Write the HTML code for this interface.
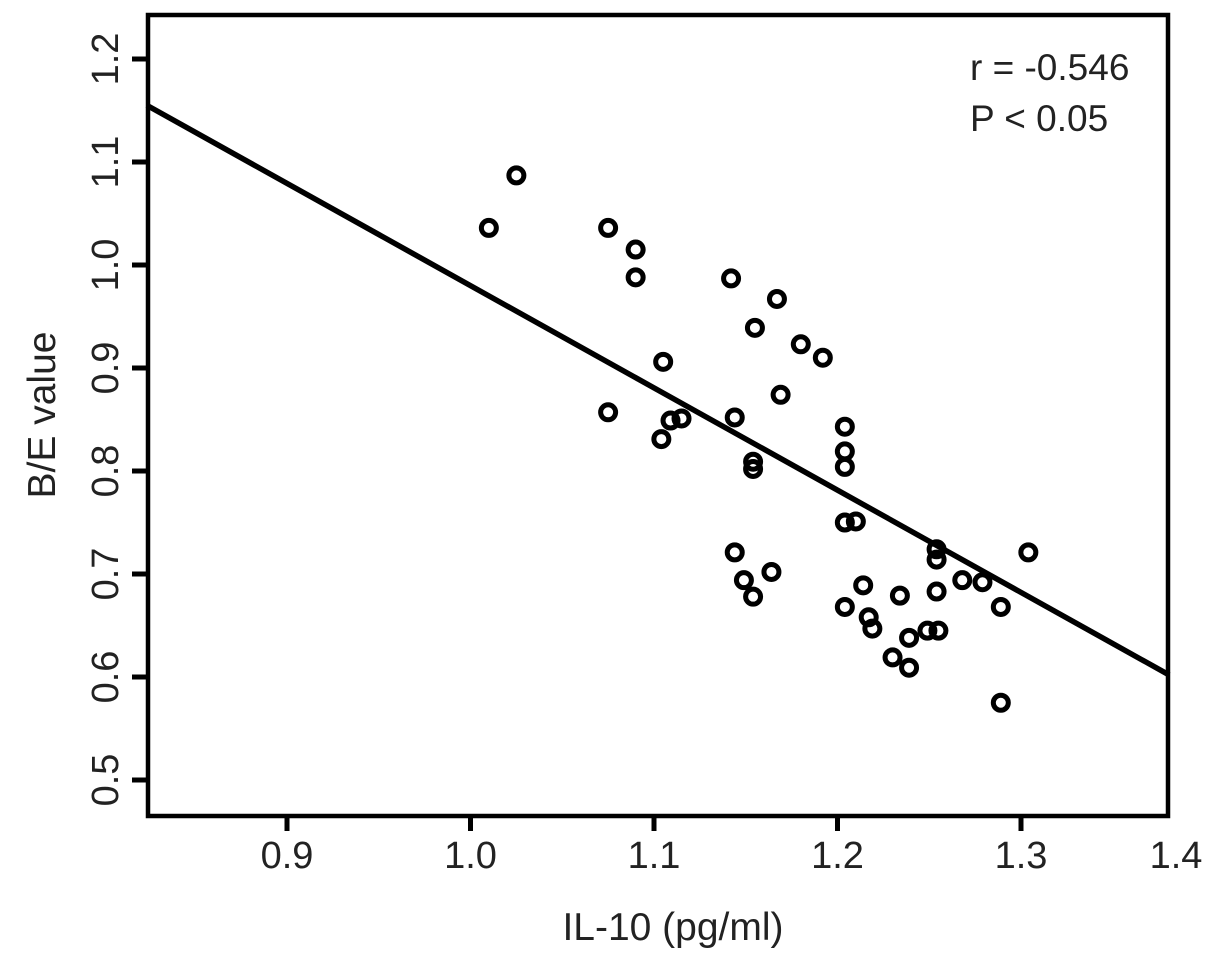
<!DOCTYPE html>
<html><head><meta charset="utf-8"><style>
html,body{margin:0;padding:0;background:#fff;}
svg{display:block;font-family:"Liberation Sans",Arial,sans-serif;}
</style></head><body>
<svg id="chart" width="1205" height="957" viewBox="0 0 1205 957" xmlns="http://www.w3.org/2000/svg">
<g id="marks"></g>
<rect x="148" y="15" width="1020" height="801" fill="none" stroke="#000" stroke-width="4.5"/>
<g id="xaxis"></g>
<g id="yaxis"></g>
<text x="673" y="940" font-size="39" text-anchor="middle" fill="#222">IL-10 (pg/ml)</text>
<text x="0" y="0" font-size="39" text-anchor="middle" fill="#222" transform="translate(55,415) rotate(-90)">B/E value</text>
<text x="970" y="80" font-size="37" fill="#222">r = -0.546</text>
<text x="970" y="131" font-size="37" fill="#222">P &lt; 0.05</text>
</svg>
<script>
const xTicks = [0.9, 1.0, 1.1, 1.2, 1.3];
const xTickLabels = ["0.9", "1.0", "1.1", "1.2", "1.3"];
const yTicks = [0.5, 0.6, 0.7, 0.8, 0.9, 1.0, 1.1, 1.2];
const yTickLabels = ["0.5", "0.6", "0.7", "0.8", "0.9", "1.0", "1.1", "1.2"];
const il10 = [1.025,1.010,1.075,1.090,1.090,1.142,1.167,1.155,1.180,1.192,1.105,1.169,1.075,1.109,1.115,1.104,1.144,1.204,1.204,1.204,1.154,1.154,1.204,1.210,1.144,1.164,1.149,1.154,1.204,1.254,1.254,1.304,1.268,1.279,1.214,1.234,1.254,1.217,1.219,1.289,1.239,1.249,1.255,1.230,1.239,1.289];
const beValue = [1.087,1.036,1.036,1.015,0.988,0.987,0.967,0.939,0.923,0.910,0.906,0.874,0.857,0.849,0.851,0.831,0.852,0.843,0.819,0.804,0.809,0.802,0.750,0.751,0.721,0.702,0.694,0.678,0.668,0.724,0.714,0.721,0.694,0.692,0.689,0.679,0.683,0.658,0.647,0.668,0.638,0.645,0.645,0.619,0.609,0.575];
const fitX = [0.8237, 1.3807];
const fitY = [1.155, 0.602];

const NS = "http://www.w3.org/2000/svg";
const X0 = 287, XS = 1835, Y0 = 780, YS = 1030;
function sx(v){ return X0 + (v - 0.9) * XS; }
function sy(v){ return Y0 - (v - 0.5) * YS; }
function mk(tag, attrs, parent){ const e = document.createElementNS(NS, tag); for (const k in attrs) e.setAttribute(k, attrs[k]); parent.appendChild(e); return e; }

const xa = document.getElementById('xaxis');
xTicks.forEach((t, i) => {
  const l = mk('line', {x1: sx(t), x2: sx(t), y1: 816, y2: 831, stroke: '#000', 'stroke-width': 5}, xa);
  
  
  const tx = mk('text', {x: sx(t), y: 868, 'font-size': 38, 'text-anchor': 'middle', fill: '#222'}, xa);
  tx.textContent = xTickLabels[i];
  
  
});
const extra = mk('text', {x: 1176, y: 868, 'font-size': 38, 'text-anchor': 'middle', fill: '#222'}, xa);
extra.textContent = "1.4";



const ya = document.getElementById('yaxis');
yTicks.forEach((t, i) => {
  const l = mk('line', {x1: 132, x2: 148, y1: sy(t), y2: sy(t), stroke: '#000', 'stroke-width': 5}, ya);
  
  
  const tx = mk('text', {x: 0, y: 0, 'font-size': 38, 'text-anchor': 'middle', fill: '#222', transform: 'translate(118,' + sy(t) + ') rotate(-90)'}, ya);
  tx.textContent = yTickLabels[i];
  
  
});

const mg = document.getElementById('marks');
const fl = mk('line', {x1: sx(fitX[0]), y1: sy(fitY[0]), x2: sx(fitX[1]), y2: sy(fitY[1]), stroke: '#000', 'stroke-width': 5.5}, mg);


il10.forEach((v, i) => {
  const c = mk('circle', {cx: sx(v), cy: sy(beValue[i]), r: 7.5, fill: 'none', stroke: '#000', 'stroke-width': 5}, mg);
  
  
});
</script>
</body></html>
